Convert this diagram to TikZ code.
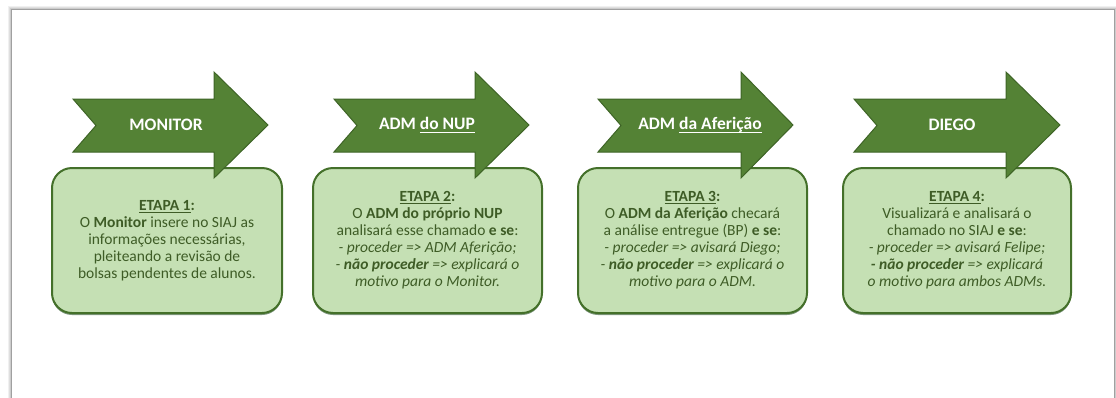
\documentclass[tikz,border=0pt]{standalone}
\usepackage{fontspec}
\setmainfont{Carlito}
\usetikzlibrary{shadows}
\definecolor{arrowfill}{HTML}{548235}
\definecolor{arrowline}{HTML}{3E6426}
\definecolor{boxfill}{HTML}{C5E0B4}
\definecolor{boxline}{HTML}{44702A}
\definecolor{txt}{HTML}{3E5C26}
\definecolor{framec}{HTML}{A0A0A0}
\newcommand\ulx[2]{\setbox0\hbox{#2}\rlap{\rule[-#1]{\wd0}{1.1pt}}\box0}
\newcommand\flowarrowpath[3]{%
  \path[flowarrow] (#1,99) -- (#2,99) -- (#2,72) -- (#3,125) -- (#2,178) -- (#2,152) -- (#1,152) -- ({#1+23},125.5) -- cycle;}
\tikzset{
  flowarrow/.style={fill=arrowfill, draw=arrowline, line width=1pt, line join=miter},
  stagebox/.style={draw=boxline, fill=boxfill, line width=2pt, rounded corners=20pt,
    minimum height=145pt, inner sep=0pt, align=center, text=txt,
    font=\fontsize{15.5}{17}\selectfont,
    drop shadow={shadow xshift=0pt, shadow yshift=-2pt, fill=black!60!green!50!black, opacity=0.5}},
  titletext/.style={text=white, font=\bfseries\fontsize{17.5}{20}\selectfont, inner sep=0pt}
}
\begin{document}
\begin{tikzpicture}[x=1pt, y=-1pt]
\useasboundingbox (0,0) rectangle (1116,397);
\fill[white] (0,0) rectangle (1116,397);
% frame with soft shadow
\draw[gray!12, line width=1pt] (8,420) -- (8,6) -- (1117,6) -- (1117,420);
\draw[gray!25, line width=1pt] (9,420) -- (9,7) -- (1116,7) -- (1116,420);
\draw[gray!40, line width=1pt] (10,420) -- (10,8) -- (1115,8) -- (1115,420);
\draw[framec, line width=1pt] (11,420) -- (11,9) -- (1114,9) -- (1114,420);

% boxes
\node[stagebox, minimum width=230pt] (b1) at (167,240.5) {%
\ulx{2.5pt}{\textbf{ETAPA 1}}\textbf{:}\\
O \textbf{Monitor} insere no SIAJ as\\
informações necessárias,\\
pleiteando a revisão de\\
bolsas pendentes de alunos.};
\node[stagebox, minimum width=229pt] (b2) at (427.5,240.5) {%
\ulx{2.5pt}{\textbf{ETAPA 2}}\textbf{:}\\
O \textbf{ADM do próprio NUP}\\
analisará esse chamado \textbf{e se}:\\
\textit{- proceder => ADM Aferição;}\\
\textit{- \textbf{não proceder} => explicará o}\\
\textit{motivo para o Monitor.}};
\node[stagebox, minimum width=229pt] (b3) at (692.5,240.5) {%
\ulx{2.5pt}{\textbf{ETAPA 3}}\textbf{:}\\
O \textbf{ADM da Aferição} checará\\
a análise entregue (BP) \textbf{e se}:\\
\textit{- proceder => avisará Diego;}\\
\textit{- \textbf{não proceder} => explicará o}\\
\textit{motivo para o ADM.}};
\node[stagebox, minimum width=228pt] (b4) at (957,240.5) {%
\ulx{2.5pt}{\textbf{ETAPA 4}}\textbf{:}\\
Visualizará e analisará o\\
chamado no SIAJ \textbf{e se}:\\
\textit{- proceder => avisará Felipe;}\\
\textit{\textbf{- não proceder} => explicará}\\
\textit{o motivo para ambos ADMs.}};

% arrows
\flowarrowpath{73}{214}{268}
\flowarrowpath{334}{475}{529}
\flowarrowpath{598}{741}{793}
\flowarrowpath{854}{1006}{1060}

\node[titletext] (t1) at (166,125) {MONITOR};
\node[titletext] (t2) at (427,125) {ADM \ulx{3pt}{do NUP}};
\node[titletext] (t3) at (700,125) {ADM \ulx{4pt}{da Aferição}};
\node[titletext] (t4) at (952,125) {DIEGO};
\end{tikzpicture}
\end{document}
